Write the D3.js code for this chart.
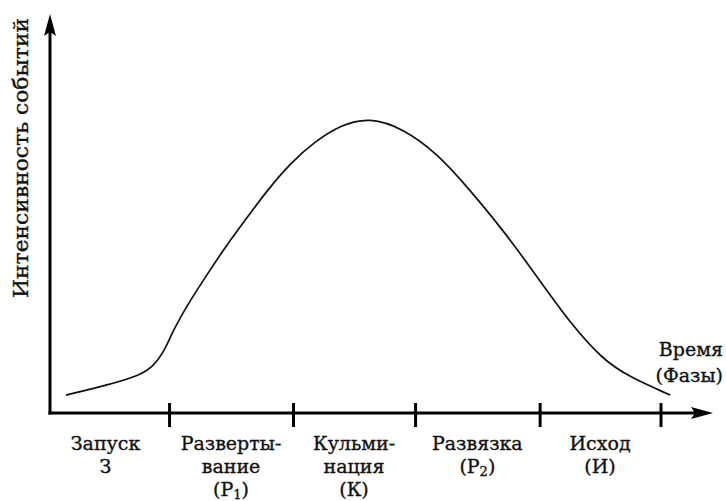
<!DOCTYPE html>
<html>
<head>
    <meta charset="utf-8">
    <script src="https://d3js.org/d3.v7.min.js"></script>
    <style>
        body { margin: 0; background: #fff; }
        text { font-family: "DejaVu Serif", "Liberation Serif", serif; fill: #111; stroke: #111; stroke-width: 0.35; }
    </style>
</head>
<body>
    <div id="app"></div>
<script>
    // время (в условных фазах) и интенсивность событий
    const time      = [0.13, 0.47, 0.74, 0.84, 0.93, 1.01, 1.15, 1.29, 1.42, 1.56, 1.78, 1.97, 2.16, 2.38, 2.62, 2.89, 3.17, 3.44, 3.71, 3.99, 4.26, 4.53, 4.75, 5.08];
    const intensity = [4.5, 7.0, 9.5, 11.6, 15.1, 20.9, 28.4, 34.9, 41.0, 46.9, 56.0, 62.8, 68.0, 72.4, 74.3, 71.5, 65.3, 56.0, 46.0, 34.2, 22.6, 13.3, 9.0, 4.5];

    // границы фаз (деления на оси времени)
    const boundaries = [0.975, 1.99, 2.99, 4.01, 5.0];
    const phaseLabels = [
        ["Запуск", "З"],
        ["Разверты-", "вание", "(Р|1|)"],
        ["Кульми-", "нация", "(К)"],
        ["Развязка", "(Р|2|)"],
        ["Исход", "(И)"]
    ];
    const yTitle = "Интенсивность событий";
    const xTitle = ["Время", "(Фазы)"];

    const W = 726, H = 501;
    const svg = d3.select("#app").append("svg")
        .attr("width", W)
        .attr("height", H);

    const x = d3.scaleLinear().domain([0, 5.43]).range([50, 713]);
    const y = d3.scaleLinear().domain([0, 100]).range([413, 15]);

    // кривая
    const line = d3.line()
        .x(d => x(d[0]))
        .y(d => y(d[1]))
        .curve(d3.curveBasis);

    svg.append("path")
        .datum(d3.zip(time, intensity))
        .attr("d", line)
        .attr("fill", "none")
        .attr("stroke", "#111")
        .attr("stroke-width", 1.7);

    // оси
    svg.append("line")
        .attr("x1", x(0)).attr("x2", x(0))
        .attr("y1", y(0) + 1.5).attr("y2", y(100) + 14)
        .attr("stroke", "#000").attr("stroke-width", 3);
    svg.append("line")
        .attr("x1", x(0) - 1.5).attr("x2", x(5.43) - 16)
        .attr("y1", y(0)).attr("y2", y(0))
        .attr("stroke", "#000").attr("stroke-width", 3);

    // стрелки
    const tipY = [x(0), y(100) - 1];
    svg.append("path")
        .attr("d", `M${tipY[0]},${tipY[1]} L${tipY[0] + 6},${tipY[1] + 22} L${tipY[0]},${tipY[1] + 18} L${tipY[0] - 6},${tipY[1] + 22} Z`)
        .attr("fill", "#000");
    const tipX = [x(5.43), y(0)];
    svg.append("path")
        .attr("d", `M${tipX[0]},${tipX[1]} L${tipX[0] - 22},${tipX[1] - 6} L${tipX[0] - 18},${tipX[1]} L${tipX[0] - 22},${tipX[1] + 6} Z`)
        .attr("fill", "#000");

    // деления
    const axis = d3.axisBottom(x)
        .tickValues(boundaries)
        .tickSize(0)
        .tickFormat("");
    const gx = svg.append("g")
        .attr("transform", `translate(0,${y(0)})`)
        .call(axis);
    gx.select(".domain").remove();
    gx.selectAll(".tick line")
        .attr("y1", -10)
        .attr("y2", 14)
        .attr("stroke", "#000")
        .attr("stroke-width", 3);

    // подписи фаз
    const starts = [0].concat(boundaries.slice(0, -1));
    phaseLabels.forEach((lines, i) => {
        const cx = x((starts[i] + boundaries[i]) / 2) - (i === 0 ? 4 : 0);
        const t = svg.append("text")
            .attr("text-anchor", "middle")
            .attr("font-size", 19);
        lines.forEach((s, j) => {
            const ts = t.append("tspan")
                .attr("x", cx)
                .attr("y", 450 + j * 23);
            const parts = s.split("|");
            if (parts.length === 1) {
                ts.text(s);
            } else {
                ts.append("tspan").text(parts[0]);
                ts.append("tspan").attr("dy", 3).attr("font-size", 13).text(parts[1]);
                ts.append("tspan").attr("dy", -3).text(parts[2]);
            }
        });
    });

    // подпись оси X
    xTitle.forEach((s, j) => {
        svg.append("text")
            .attr("x", 723)
            .attr("y", 356 + j * 26)
            .attr("text-anchor", "end")
            .attr("font-size", 19)
            .text(s);
    });

    // подпись оси Y
    svg.append("text")
        .attr("transform", "translate(28,298) rotate(-90)")
        .attr("font-size", 20)
        .attr("textLength", 280)
        .attr("lengthAdjust", "spacingAndGlyphs")
        .text(yTitle);
</script>
</body>
</html>
